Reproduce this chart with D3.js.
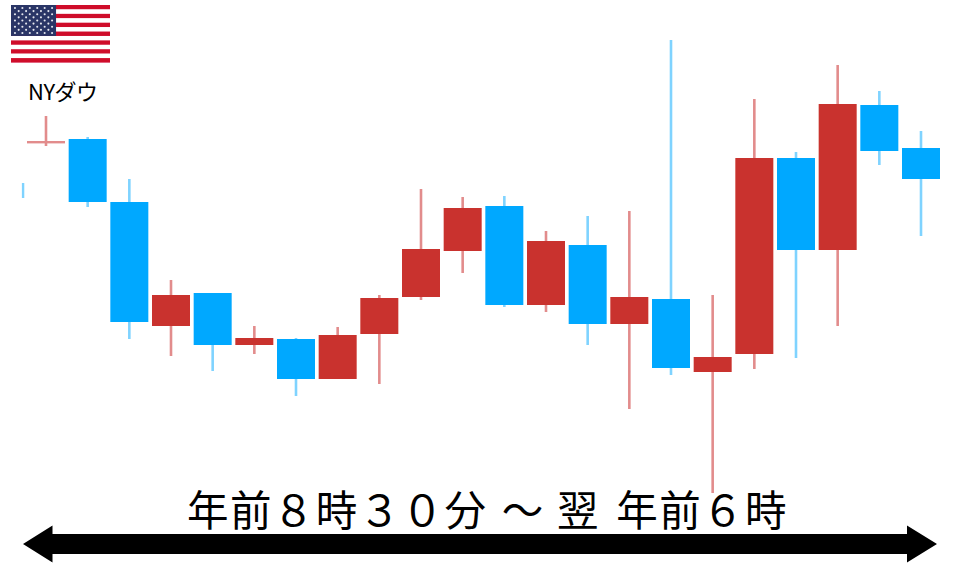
<!DOCTYPE html>
<html><head><meta charset="utf-8">
<script src="https://cdn.jsdelivr.net/npm/d3@7"></script>
<style>html,body{margin:0;padding:0;background:#fff}svg{display:block}text{font-family:"Noto Sans CJK JP","Noto Sans",sans-serif;fill:#000}</style>
</head><body>
<svg id="c" width="960" height="567"></svg>
<script>
// Readings are heights on the picture's vertical scale
const sessions = d3.range(1, 23);
const opens  = [425,428,365,241,274,222,228,188,233,270,316,361,262,322,243,268,195,213,409,317,462,419];
const closes = [426,365,245,272,222,229,188,232,269,318,359,262,326,243,270,199,210,409,317,463,416,388];
const highs  = [451,430,388,287,274,241,229,240,272,378,370,371,336,351,356,527,272,468,415,502,476,436];
const lows   = [421,360,228,211,196,213,171,188,183,267,294,260,255,222,158,192,74,198,209,241,402,331];
const fallingSessions = [2,3,5,7,12,14,16,19,21,22];
const clippedSession = 0.45, clippedHigh = 384, clippedLow = 369;
const title = "NYダウ";
const rangeLabel = ["年","前","８","時","３","０","分","～","翌","年","前","６","時"];
const rangeSlots = [0,1,2,3,4,5,6,7.33,8.62,10,11,12,13];

const svg = d3.select("#c");
const x = d3.scaleLinear().domain([1,22]).range([46,921]);
const y = d3.scaleLinear().domain([0,567]).range([567,0]);
const COL = {up:"#c9302e", down:"#00a8ff", upW:"#e28c8c", downW:"#7fd3ff"};
const isDown = s => fallingSessions.includes(s);
const bodyW = 38;

svg.append("defs").append("filter").attr("id","soft")
  .append("feGaussianBlur").attr("stdDeviation",0.45);

const plot = svg.append("g").attr("filter","url(#soft)");
plot.append("line").attr("x1",x(clippedSession)).attr("x2",x(clippedSession))
  .attr("y1",y(clippedHigh)).attr("y2",y(clippedLow))
  .attr("stroke",COL.downW).attr("stroke-width",2.4);
plot.selectAll("line.w").data(sessions).join("line").attr("class","w")
  .attr("x1",d=>x(d)).attr("x2",d=>x(d))
  .attr("y1",(d,i)=>y(highs[i])).attr("y2",(d,i)=>y(lows[i]))
  .attr("stroke",d=>isDown(d)?COL.downW:COL.upW).attr("stroke-width",2.6);
plot.selectAll("rect.b").data(sessions).join("rect").attr("class","b")
  .attr("x",d=>x(d)-bodyW/2).attr("width",bodyW)
  .attr("y",(d,i)=>y(Math.max(opens[i],closes[i])))
  .attr("height",(d,i)=>Math.max(2.4,Math.abs(y(opens[i])-y(closes[i]))))
  .attr("fill",(d,i)=>i===0?COL.upW:(isDown(d)?COL.down:COL.up));

// Flag
const flag = svg.append("g").attr("filter","url(#soft)");
const fx = d3.scaleLinear().domain([0,1]).range([11,110]);
const fy = d3.scaleBand().domain(d3.range(13)).range([5,62.5]);
flag.selectAll("rect.s").data(d3.range(13)).join("rect").attr("class","s")
  .attr("x",fx(0)).attr("width",fx(1)-fx(0)).attr("y",d=>fy(d)).attr("height",fy.bandwidth()+.1)
  .attr("fill",d=>d%2?"#fff":"#cf0a2c");
const cantonRows = 7;
flag.append("rect").attr("x",fx(0)).attr("y",fy(0)).attr("width",fx(.455)-fx(0)).attr("height",fy(cantonRows)-fy(0)).attr("fill","#2b3566");
const stars=[];
for(let r=0;r<9;r++){const n=r%2?5:6;for(let c=0;c<n;c++)stars.push({r,c:r%2?c+.5:c});}
const sx=d3.scaleLinear().domain([0,5]).range([fx(.04),fx(.415)]);
const sy=d3.scaleLinear().domain([0,8]).range([fy(0)+3,fy(cantonRows)-3]);
flag.selectAll("circle").data(stars).join("circle").attr("cx",d=>sx(d.c)).attr("cy",d=>sy(d.r)).attr("r",1.05).attr("fill","#e6e8ef");

svg.append("text").attr("x",28).attr("y",100).attr("font-size",22).attr("letter-spacing",-0.5).text(title);

// Range label
const lx = d3.scaleLinear().domain([0,13]).range([187,745]);
svg.selectAll("text.r").data(rangeLabel).join("text").attr("class","r")
  .attr("x",(d,i)=>lx(rangeSlots[i])).attr("y",526).attr("font-size",41.5).text(d=>d);

// Double arrow
const ax = d3.scaleLinear().domain([0,1]).range([23,937]);
const a0=ax(0),a1=ax(1);
svg.append("path").attr("fill","#000").attr("d",d3.line()([
 [a0,544],[a0+29.5,525.5],[a0+29.5,534],[a1-30,534],[a1-30,525.5],[a1,544],[a1-30,562.5],[a1-30,554],[a0+29.5,554],[a0+29.5,562.5]
])+"Z");
</script>
</body></html>
